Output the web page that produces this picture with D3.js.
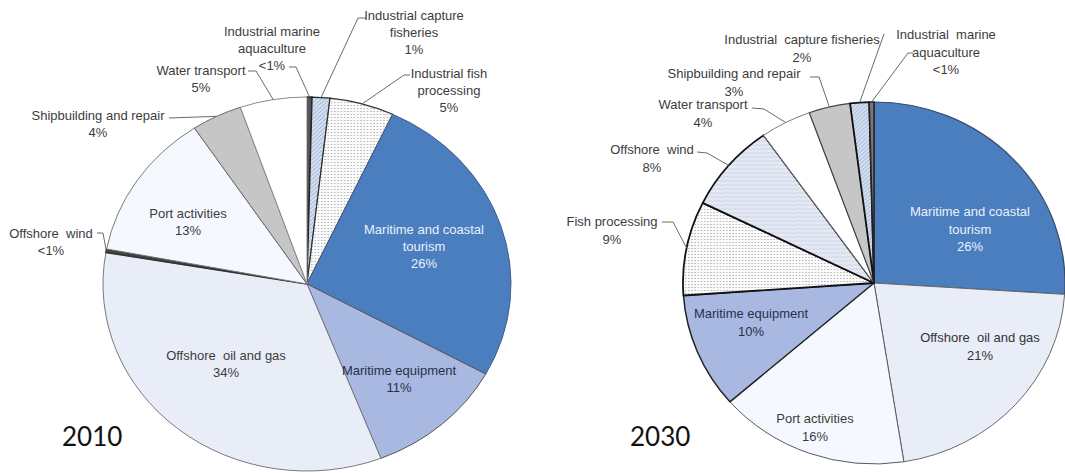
<!DOCTYPE html>
<html>
<head>
<meta charset="utf-8">
<script src="https://cdn.jsdelivr.net/npm/d3@7"></script>
<style>
body{margin:0;background:#fff;overflow:hidden;}
svg{display:block;}
.label{font-family:"Liberation Sans",Arial,sans-serif;font-size:13px;fill:#3c3c3c;}
.year{font-family:Lato,"Open Sans",sans-serif;font-size:26px;fill:#111;}
.leader{fill:none;stroke:#6a6a6a;stroke-width:1;}
</style>
</head>
<body>
<svg id="pies"></svg>
<script>
//slices go clockwise from 12 o'clock, names wrap where the chart wraps them
var categories2010 = ["Industrial marine\naquaculture","Industrial capture\nfisheries","Industrial fish\nprocessing",
                      "Maritime and coastal\ntourism","Maritime equipment","Offshore  oil and gas","Offshore  wind",
                      "Port activities","Shipbuilding and repair","Water transport"]
var values2010 = [0.4,1.4,5.1,26.1,11.1,33.6,0.3,12.7,4.0,5.3]
var percent2010 = ["<1%","1%","5%","26%","11%","34%","<1%","13%","4%","5%"]

var categories2030 = ["Maritime and coastal\ntourism","Offshore  oil and gas","Port activities","Maritime equipment",
                      "Fish processing","Offshore  wind","Water transport","Shipbuilding and repair",
                      "Industrial  capture fisheries","Industrial  marine\naquaculture"]
var values2030 = [26.0,21.5,16.1,10.3,8.4,7.9,4.3,3.5,1.6,0.4]
var percent2030 = ["26%","21%","16%","10%","9%","8%","4%","3%","2%","<1%"]

var years = ["2010","2030"]

//strip the wrapping so names can be used as keys
var key = function(name){return name.replace(/\s+/g," ")}

var fills = {
    "Maritime and coastal tourism":"#4a7ebf",
    "Maritime equipment":"#a8b8e1",
    "Offshore oil and gas":"#e9edf8",
    "Port activities":"#f5f9ff",
    "Shipbuilding and repair":"#c6c6c6",
    "Water transport":"#ffffff",
    "Industrial marine aquaculture":"#555555",
    "Industrial capture fisheries":"url(#hatch)",
    "Industrial fish processing":"url(#dots)",
    "Fish processing":"url(#dots)",
    "Offshore wind":"url(#wave)"
}

//stroke colour and width for each slice (optional third entry overrides the fill)
var strokes2010 = {
    "Industrial marine aquaculture":["#222",1.4],
    "Industrial capture fisheries":["#222",1.2],
    "Industrial fish processing":["#333",1.2],
    "Maritime and coastal tourism":["#44618f",1],
    "Maritime equipment":["#555",1],
    "Offshore oil and gas":["#7a7a7a",1],
    "Offshore wind":["#333",1.6,"#444"],
    "Port activities":["#7a7a7a",1],
    "Shipbuilding and repair":["#6a6a6a",1],
    "Water transport":["#8a8a8a",1]
}
var strokes2030 = {
    "Maritime and coastal tourism":["#3a4a66",1.2],
    "Offshore oil and gas":["#6a6a6a",1],
    "Port activities":["#5a5a5a",1],
    "Maritime equipment":["#222",1.5],
    "Fish processing":["#111",1.8],
    "Offshore wind":["#111",1.8],
    "Water transport":["#7a7a7a",1],
    "Shipbuilding and repair":["#444",1.2],
    "Industrial capture fisheries":["#111",1.8],
    "Industrial marine aquaculture":["#222",1.5,"#777"]
}

//where each label sits (centre x, first baseline) and the elbow of its leader line
var layout2010 = {
    "Industrial marine aquaculture":{x:272,y:36,leader:[[289,67],[296,67]]},
    "Industrial capture fisheries":{x:414,y:20,leader:[[366,18],[358,18]]},
    "Industrial fish processing":{x:449,y:78,leader:[[410,75],[404,75]]},
    "Maritime and coastal tourism":{x:424,y:234,color:"#eaf0fa"},
    "Maritime equipment":{x:399,y:375,color:"#26324a"},
    "Offshore oil and gas":{x:226,y:360},
    "Offshore wind":{x:51,y:238,leader:[[97,233],[103,233]]},
    "Port activities":{x:188,y:218},
    "Shipbuilding and repair":{x:98,y:120,leader:[[169,118]]},
    "Water transport":{x:201,y:75,leader:[[248,71],[256,71]]}
}
var layout2030 = {
    "Maritime and coastal tourism":{x:970,y:216,color:"#eaf0fa"},
    "Offshore oil and gas":{x:980,y:342,color:"#333"},
    "Port activities":{x:815,y:423},
    "Maritime equipment":{x:751,y:318,color:"#26324a"},
    "Fish processing":{x:612,y:226,leader:[[662,222],[673,222]]},
    "Offshore wind":{x:652,y:154,leader:[[697,152],[707,153]]},
    "Water transport":{x:703,y:109,leader:[[752,108],[764,109]]},
    "Shipbuilding and repair":{x:734,y:78,leader:[[810,77],[819,77]]},
    "Industrial capture fisheries":{x:802,y:44,leader:[[884,34]]},
    "Industrial marine aquaculture":{x:946,y:39,leader:[[913,53],[908,53]]}
}

//centre and radii of the two (slightly stretched) pies
var geom2010 = {cx:307,cy:284,rx:204,ry:187,lineHeight:16.8}
var geom2030 = {cx:874,cy:283,rx:191,ry:181,lineHeight:17.6}

var addPatterns = function(svg)
{
    var defs = svg.append("defs")

    var hatch = defs.append("pattern")
        .attr("id","hatch")
        .attr("patternUnits","userSpaceOnUse")
        .attr("width",4).attr("height",4)
    hatch.append("rect").attr("width",4).attr("height",4).attr("fill","#d4dff1")
    hatch.append("path")
        .attr("d","M-1,1 l2,-2 M0,4 l4,-4 M3,5 l2,-2")
        .attr("stroke","#8ea4cb").attr("stroke-width",0.7)

    var dots = defs.append("pattern")
        .attr("id","dots")
        .attr("patternUnits","userSpaceOnUse")
        .attr("width",3).attr("height",3)
    dots.append("rect").attr("width",3).attr("height",3).attr("fill","#fbfbfb")
    dots.append("circle").attr("cx",1.5).attr("cy",1.5).attr("r",0.55).attr("fill","#8a8a8a")

    var wave = defs.append("pattern")
        .attr("id","wave")
        .attr("patternUnits","userSpaceOnUse")
        .attr("width",4).attr("height",4)
    wave.append("rect").attr("width",4).attr("height",4).attr("fill","#e5eaf5")
    wave.append("path")
        .attr("d","M0,2 q1,-1.4 2,0 t2,0")
        .attr("fill","none").attr("stroke","#bcc6dc").attr("stroke-width",0.6)
}

//draws one pie with its labels and leader lines
var drawPie = function(svg,categories,values,percents,geom,strokes,layout)
{
    var slices = categories.map(function(name,i)
    {
        return {name:key(name),text:name,value:values[i],pct:percents[i]}
    })

    var pie = d3.pie()
        .sort(null)
        .value(function(d){return d.value})
    var arcs = pie(slices)

    var arc = d3.arc()
        .innerRadius(0)
        .outerRadius(geom.ry)

    var g = svg.append("g")
        .attr("transform","translate("+geom.cx+","+geom.cy+") scale("+(geom.rx/geom.ry)+",1)")

    g.selectAll("path")
        .data(arcs)
        .enter()
        .append("path")
        .attr("d",arc)
        .attr("fill",function(d){return strokes[d.data.name][2]||fills[d.data.name]})
        .attr("stroke",function(d){return strokes[d.data.name][0]})
        .attr("stroke-width",function(d){return strokes[d.data.name][1]})
        .attr("stroke-linejoin","round")
        .attr("vector-effect","non-scaling-stroke")

    //point on the rim in the middle of a slice
    var rim = function(d)
    {
        var a = (d.startAngle+d.endAngle)/2
        return [geom.cx+geom.rx*Math.sin(a),geom.cy-geom.ry*Math.cos(a)]
    }

    var line = d3.line()

    var withLeader = arcs.filter(function(d){return layout[d.data.name].leader})
    svg.append("g")
        .selectAll("path")
        .data(withLeader)
        .enter()
        .append("path")
        .classed("leader",true)
        .attr("d",function(d)
        {
            return line(layout[d.data.name].leader.concat([rim(d)]))
        })

    var labels = svg.append("g")
        .selectAll("text")
        .data(arcs)
        .enter()
        .append("text")
        .classed("label",true)
        .attr("text-anchor","middle")
        .attr("xml:space","preserve")
        .style("fill",function(d){return layout[d.data.name].color||null})

    labels.selectAll("tspan")
        .data(function(d)
        {
            var pos = layout[d.data.name]
            return d.data.text.split("\n").concat([d.data.pct]).map(function(t,i)
            {
                return {t:t,x:pos.x,y:pos.y+i*geom.lineHeight}
            })
        })
        .enter()
        .append("tspan")
        .attr("x",function(d){return d.x})
        .attr("y",function(d){return d.y})
        .text(function(d){return d.t})
}

var initPies = function()
{
    var screen = {width:1065,height:473}
    var svg = d3.select("#pies")
        .attr("width",screen.width)
        .attr("height",screen.height)

    addPatterns(svg)

    drawPie(svg,categories2010,values2010,percent2010,geom2010,strokes2010,layout2010)
    drawPie(svg,categories2030,values2030,percent2030,geom2030,strokes2030,layout2030)

    //year captions
    svg.append("g")
        .selectAll("text")
        .data(years)
        .enter()
        .append("text")
        .classed("year",true)
        .attr("x",function(d,i){return [62,630][i]})
        .attr("y",446)
        .text(function(d){return d})
}

initPies()
</script>
</body>
</html>
